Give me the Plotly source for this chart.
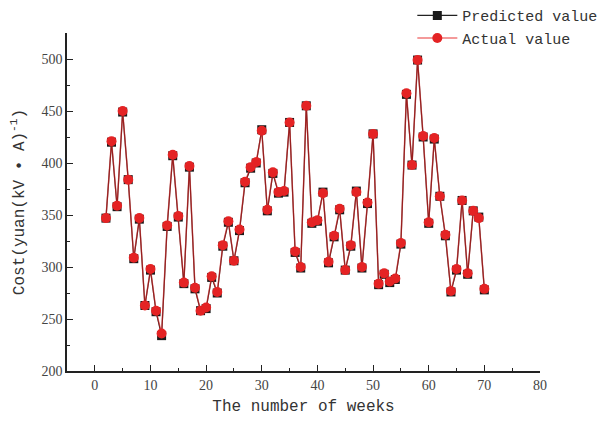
import plotly.graph_objects as go

weeks = list(range(2, 71))
actual = [347, 421, 359, 450, 384, 309, 347, 263, 298, 258, 236, 340, 408, 349, 285, 397,
          280, 258, 261, 291, 276, 321, 344, 306, 336, 382, 396, 401, 431, 355, 391, 372,
          373, 439, 315, 300, 455, 343, 345, 371, 305, 330, 356, 297, 321, 372, 300, 362,
          428, 284, 294, 286, 289, 323, 467, 398, 499, 426, 343, 424, 368, 331, 277, 298,
          364, 294, 354, 347, 279]
predicted = [347, 420, 358, 449, 384, 308, 346, 263, 297, 257, 234, 339, 407, 348, 284, 396,
             279, 258, 260, 290, 275, 320, 343, 306, 335, 381, 395, 400, 432, 354, 390, 371,
             372, 439, 314, 299, 455, 342, 344, 372, 304, 329, 355, 297, 320, 373, 299, 361,
             428, 283, 293, 285, 288, 322, 466, 398, 499, 425, 342, 423, 368, 330, 276, 297,
             364, 293, 354, 348, 278]

font_t = "Liberation Mono, monospace"
font_n = "Liberation Serif, serif"

fig = go.Figure()
fig.add_trace(go.Scatter(
    x=weeks, y=predicted, name="Predicted value", mode="lines+markers",
    line=dict(color="#222222", width=1.2),
    marker=dict(symbol="square", size=9, color="#1a1a1a"),
))
fig.add_trace(go.Scatter(
    x=weeks, y=actual, name="Actual value", mode="lines+markers",
    line=dict(color="rgba(230,30,30,0.6)", width=1.5),
    marker=dict(symbol="circle", size=10, color="#e42324"),
))

fig.update_layout(
    width=608, height=424,
    margin=dict(l=59, r=76, t=25, b=61, autoexpand=False),
    plot_bgcolor="white", paper_bgcolor="white",
    showlegend=True,
    legend=dict(x=0.665, y=1.10, xref="container", yref="paper",
                xanchor="left", yanchor="top",
                font=dict(family=font_t, size=15, color="#333333"),
                bgcolor="rgba(0,0,0,0)", tracegroupgap=0, itemwidth=40),
    xaxis=dict(range=[-5, 80], tickvals=list(range(0, 81, 10)), automargin=False,
               showgrid=False, zeroline=False, showline=True, linecolor="#222", linewidth=1.5,
               ticks="inside", ticklen=6, tickcolor="#222", tickwidth=1.2,
               minor=dict(ticks="inside", dtick=5, tick0=0, ticklen=3, tickcolor="#222", showgrid=False),
               tickfont=dict(family=font_n, size=14, color="#444"),
               title=dict(text="The number of weeks", font=dict(family=font_t, size=16, color="#333"), standoff=8)),
    yaxis=dict(range=[200, 525], tickvals=list(range(200, 501, 50)), automargin=False,
               showgrid=False, zeroline=False, showline=True, linecolor="#222", linewidth=1.5,
               ticks="inside", ticklen=6, tickcolor="#222", tickwidth=1.2,
               minor=dict(ticks="inside", dtick=25, tick0=200, ticklen=3, tickcolor="#222", showgrid=False),
               tickfont=dict(family=font_n, size=14, color="#444"),
               title=dict(text="Cost(yuan(kV • A)<sup>-1</sup>)", font=dict(family=font_t, size=16, color="#333"), standoff=13)),
)

fig.write_html("out.html")
